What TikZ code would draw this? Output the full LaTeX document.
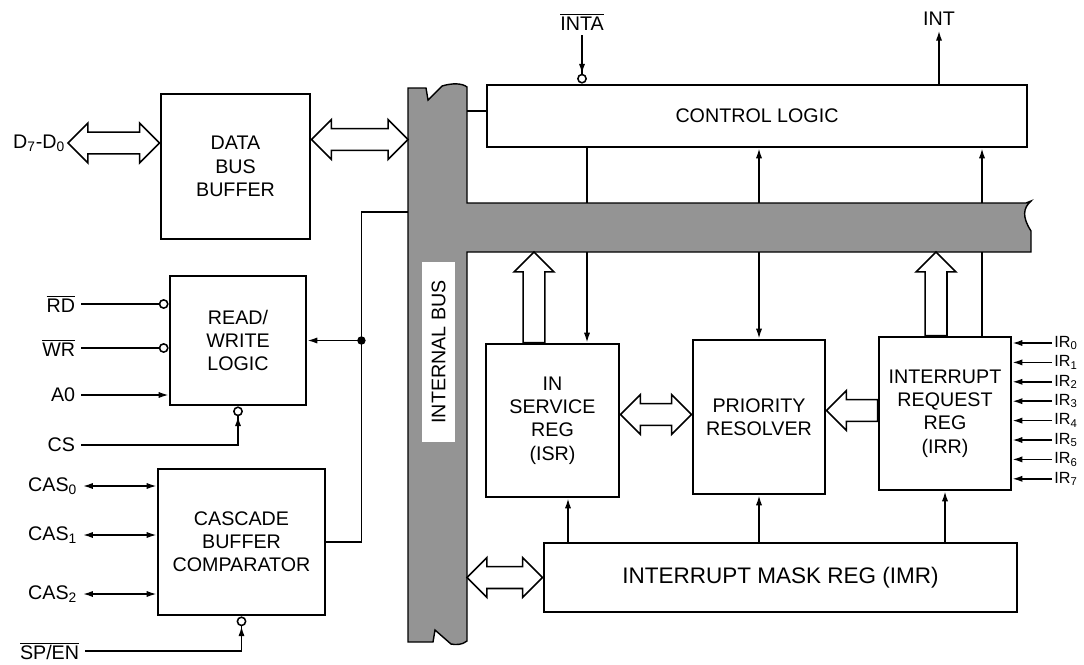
\documentclass[tikz,border=0pt]{standalone}
\usepackage{fontspec}
\setsansfont{Liberation Sans}
\usetikzlibrary{arrows.meta,calc}

\newcommand\lowactive[1]{$\overline{\mbox{#1}}$}
\def\headlen{14.2pt}
\def\headhalf{14.2pt}
\def\bodyhalf{7.8pt}

% hollow bus arrows: two tips, one tip to the left, one tip upwards
\newcommand\busboth[2]{%
  \draw[hollow] let \p1=(#1), \p2=(#2) in
    (\x1,\y1) -- (\x1+\headlen,\y1+\headhalf) -- (\x1+\headlen,\y1+\bodyhalf)
    -- (\x2-\headlen,\y1+\bodyhalf) -- (\x2-\headlen,\y1+\headhalf) -- (\x2,\y1)
    -- (\x2-\headlen,\y1-\headhalf) -- (\x2-\headlen,\y1-\bodyhalf)
    -- (\x1+\headlen,\y1-\bodyhalf) -- (\x1+\headlen,\y1-\headhalf) -- cycle;}
\newcommand\busleft[2]{%
  \draw[hollow] let \p1=(#1), \p2=(#2) in
    (\x1,\y1) -- (\x1+\headlen,\y1+\headhalf) -- (\x1+\headlen,\y1+\bodyhalf)
    -- (\x2,\y1+\bodyhalf) -- (\x2,\y1-\bodyhalf)
    -- (\x1+\headlen,\y1-\bodyhalf) -- (\x1+\headlen,\y1-\headhalf) -- cycle;}
\newcommand\busup[2]{%
  \draw[hollow] let \p1=(#1), \p2=(#2) in
    (\x1,\y2) -- (\x1+\headhalf,\y2-\headlen) -- (\x1+\bodyhalf,\y2-\headlen)
    -- (\x1+\bodyhalf,\y1) -- (\x1-\bodyhalf,\y1)
    -- (\x1-\bodyhalf,\y2-\headlen) -- (\x1-\headhalf,\y2-\headlen) -- cycle;}

\begin{document}
\begin{tikzpicture}[
  x=.025cm, y=-.025cm,
  font=\sffamily\fontsize{14}{16.5}\selectfont,
  block/.style={draw, line width=2pt, fill=white, align=center, inner sep=0pt},
  wire/.style={line width=1.1pt},
  sig/.style={wire, -{Latex[length=7pt,width=4.4pt]}},
  sigboth/.style={wire, {Latex[length=7pt,width=4.4pt]}-{Latex[length=7pt,width=4.4pt]}},
  lowin/.style={wire, -{Circle[open,length=7pt]}},
  lowsig/.style={wire, -{Latex[length=7pt,width=4.4pt] Circle[open,length=7pt]}},
  pinname/.style={inner sep=4pt},
  irname/.style={anchor=west, inner sep=1.5pt, font=\sffamily\fontsize{11.5}{13}\selectfont},
  hollow/.style={draw, fill=white, line width=1.1pt},
  bus/.style={draw, line width=1pt, fill=black!42}
]
\useasboundingbox (0,0) rectangle (1084,664);

% internal bus, broken off at its three ends
\coordinate (busL) at (408,0);
\coordinate (busR) at (467,0);
\coordinate (bartop) at (0,203);
\coordinate (barbot) at (0,252);
\draw[bus] (408,88) -- (426,88) -- (428,100) -- (442,86)
  .. controls (452,83) and (462,83) .. (467,87) -- (467,203) -- (1026,203)
  -- (1031,201) .. controls (1023,208) and (1022,217) .. (1031,231)
  -- (1031,252) -- (467,252) -- (467,641)
  .. controls (462,645) and (456,645) .. (451,644) -- (435,630) -- (433,642)
  -- (408,642) -- cycle;
\node[fill=white, rotate=90, minimum width=4.5cm, minimum height=.825cm,
  inner sep=0pt] (buslabel) at (438.5,352) {INTERNAL BUS};

\node[block, minimum width=3.725cm, minimum height=3.625cm] (dbb) at (235.5,166.5) {DATA\\BUS\\BUFFER};
\node[block, minimum width=3.4cm, minimum height=3.225cm] (rw) at (238,340.5) {READ/\\WRITE\\LOGIC};
\node[block, minimum width=4.175cm, minimum height=3.65cm] (cas) at (241.5,542) {CASCADE\\BUFFER\\COMPARATOR};
\node[block, minimum width=13.5cm, minimum height=1.55cm] (ctrl) at (757,116) {CONTROL LOGIC};
\node[block, minimum width=3.325cm, minimum height=3.825cm] (isr) at (552.5,420.5) {IN\\SERVICE\\REG\\(ISR)};
\node[block, minimum width=3.3cm, minimum height=3.85cm] (pr) at (759,417) {PRIORITY\\RESOLVER};
\node[block, minimum width=3.3cm, minimum height=3.825cm] (irr) at (945,413.5) {INTERRUPT\\REQUEST\\REG\\(IRR)};
\node[block, minimum width=11.825cm, minimum height=1.725cm,
  font=\sffamily\fontsize{16}{19}\selectfont] (imr) at (780.5,577.5) {INTERRUPT MASK REG (IMR)};

% data bus side
\node[anchor=east, inner sep=2pt] (dpins) at (68,143) {D\textsubscript{7}-D\textsubscript{0}};
\busboth{dpins.east}{dpins.east -| dbb.west}
\coordinate (dbbport) at ($(dbb.east)+(0,-27)$);
\busboth{dbbport}{dbbport -| busL}

% read/write and cascade pins
\node[anchor=east, pinname] (rd) at (81,304) {\lowactive{RD}};
\node[anchor=east, pinname] (wr) at (81,348) {\lowactive{WR}};
\node[anchor=east, pinname] (azero) at (81,395) {A0};
\node[anchor=east, pinname] (cs) at (81,445) {CS};
\draw[lowin] (rd.east) -- (rd.east -| rw.west);
\draw[lowin] (wr.east) -- (wr.east -| rw.west);
\draw[sig] (azero.east) -- (azero.east -| rw.west);
\draw[lowsig] (cs.east) -| (rw.south);

\foreach \n/\y in {0/486,1/535,2/594} {
  \node[anchor=east, pinname] (cas\n) at (83,\y) {CAS\textsubscript{\n}};
  \draw[sigboth] (cas\n.east) -- (cas\n.east -| cas.west);
}
\node[anchor=east, pinname] (spen) at (85,651) {\lowactive{SP/EN}};
\draw[lowsig] (spen.east) -| (cas.south);

\path (rw.east) ++(54,0) coordinate (tap);
\coordinate (bustap) at (408,212);
\draw[wire] (cas.east) -| (tap) |- (bustap);
\draw[sig] (tap) -- (rw.east);
\fill (tap) circle (3pt);

% control logic
\coordinate (ctrlport) at ($(ctrl.west)+(0,-5)$);
\draw[wire] (ctrlport) -- (ctrlport -| busR);
\node (inta) at (582,22) {\lowactive{INTA}};
\draw[lowsig] (inta.south) -- (inta.south |- ctrl.north);
\node (int) at (939,19) {INT};
\draw[sig] (int.south |- ctrl.north) -- (int.south);

% registers to and from the bus
\coordinate (isrin) at ($(isr.north)+(34.5,0)$);
\coordinate (isrout) at ($(isr.north)+(-18.5,0)$);
\draw[wire] (isrin |- ctrl.south) -- (isrin |- bartop);
\draw[sig] (isrin |- barbot) -- (isrin);
\busup{isrout}{isrout |- barbot}

\draw[sig] (pr.north |- bartop) -- (pr.north |- ctrl.south);
\draw[sig] (pr.north |- barbot) -- (pr.north);

\coordinate (irrin) at ($(irr.north)+(37,0)$);
\coordinate (irrout) at ($(irr.north)+(-9,0)$);
\draw[sig] (irrin |- bartop) -- (irrin |- ctrl.south);
\draw[wire] (irrin) -- (irrin |- barbot);
\busup{irrout}{irrout |- barbot}

\coordinate (isrport) at ($(isr.east)+(0,-6)$);
\busboth{isrport}{isrport -| pr.west}
\coordinate (irrport) at ($(irr.west)+(0,-3)$);
\busleft{irrport -| pr.east}{irrport}

\foreach \i in {0,...,7} {
  \node[irname] (ir\i) at ({1052},{343+19.4*\i}) {IR\textsubscript{\i}};
  \draw[sig] (ir\i.west) -- (ir\i.west -| irr.east);
}

% mask register
\coordinate (imrisr) at ($(isr.south)+(15.5,0)$);
\draw[sig] (imrisr |- imr.north) -- (imrisr);
\draw[sig] (pr.south |- imr.north) -- (pr.south);
\draw[sig] (irr.south |- imr.north) -- (irr.south);
\busboth{imr.west -| busR}{imr.west}
\end{tikzpicture}
\end{document}
